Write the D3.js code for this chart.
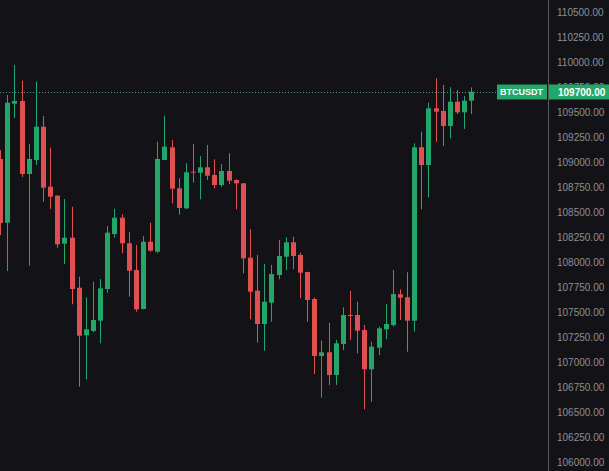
<!DOCTYPE html>
<html>
<head>
<meta charset="utf-8">
<script src="https://cdn.jsdelivr.net/npm/d3@7"></script>
<style>
  html, body { margin: 0; padding: 0; background: #131317; }
  svg { display: block; }
</style>
</head>
<body>
<svg id="chart" width="609" height="471"></svg>
<script>
// ---- data ----
const symbol = "BTCUSDT";
const lastPrice = 109700;
const opens  = [109030,108393,109583,109610,108880,109020,109353,108753,108663,108183,108243,107743,107267,107310,107413,107730,108280,108443,108187,107920,107530,108203,108103,109020,109147,108737,108537,108903,108893,108947,108870,108770,108910,108820,108787,108043,107713,107380,107593,107870,108053,108197,108070,107900,107630,107060,107097,106870,107180,107470,107470,107320,106927,107143,107327,107370,107677,107647,107413,109147,108970,109537,109510,109360,109603,109497,109613];
const highs  = [109120,109670,109970,109813,109180,109803,109460,109143,108670,108630,108553,107853,107647,107803,107830,108360,108533,108477,108300,108170,108260,108393,109203,109463,109220,108837,108987,109180,109060,109170,109027,108980,109087,108827,108790,108327,108070,107980,107970,108220,108247,108253,108093,107903,107647,107213,107393,107220,107547,107713,107603,107370,107203,107353,107580,107920,107727,107897,109187,109303,109593,109837,109770,109747,109720,109660,109747];
const lows   = [108270,107910,109440,108850,107963,108970,108603,108530,108143,107980,107577,106753,106827,107297,107187,107693,108243,108087,107653,107503,107527,108103,108087,109020,108587,108473,108527,108793,108627,108820,108737,108753,108780,108527,107887,107427,107193,107113,107403,107827,107920,107927,107637,107403,106880,106643,106770,106770,107120,107220,107087,106527,106603,107070,107227,107353,107420,107103,107303,108527,108647,109203,109160,109237,109480,109330,109480];
const closes = [108390,109593,109610,108880,109030,109353,108743,108653,108177,108243,107730,107263,107327,107420,107737,108293,108443,108187,107913,107527,108203,108113,109030,109153,108733,108540,108897,108893,108947,108863,108770,108910,108813,108787,108037,107703,107380,107603,107880,108060,108197,108060,107893,107620,107060,107097,106870,107187,107470,107460,107313,106927,107153,107337,107380,107680,107643,107413,109147,108970,109537,109503,109360,109603,109497,109613,109703];
const tickValues = [106000,106250,106500,106750,107000,107250,107500,107750,108000,108250,108500,108750,109000,109250,109500,109750,110000,110250,110500];

const candles = opens.map((o, i) => ({ i, o, h: highs[i], l: lows[i], c: closes[i] }));

// ---- style ----
const UP = "#24a66b", DOWN = "#e04f52";
const svg = d3.select("#chart");

const y = d3.scaleLinear().domain([106000, 110500]).range([462, 12]);
const x = d3.scaleLinear().domain([0, candles.length - 1]).range([0.2, 471.3]);
const bodyW = 5;

// price line (dotted)
svg.append("line")
  .attr("x1", 0).attr("x2", 497)
  .attr("y1", Math.round(y(lastPrice)) + 0.5).attr("y2", Math.round(y(lastPrice)) + 0.5)
  .attr("stroke", "#4e9c78").attr("stroke-width", 1)
  .attr("stroke-dasharray", "1,2");

// candles
const g = svg.append("g");
g.selectAll("line.wick").data(candles).join("line")
  .attr("class", "wick")
  .attr("x1", d => Math.round(x(d.i)) + 0.5).attr("x2", d => Math.round(x(d.i)) + 0.5)
  .attr("y1", d => y(d.h)).attr("y2", d => y(d.l))
  .attr("stroke", d => d.c >= d.o ? UP : DOWN).attr("stroke-width", 1);

g.selectAll("rect.body").data(candles).join("rect")
  .attr("class", "body")
  .attr("x", d => Math.round(x(d.i)) + 0.5 - bodyW / 2)
  .attr("width", bodyW)
  .attr("y", d => y(Math.max(d.o, d.c)))
  .attr("height", d => Math.max(1, Math.abs(y(d.o) - y(d.c))))
  .attr("fill", d => d.c >= d.o ? UP : DOWN);

// right price axis
const axisX = 548.5;
svg.append("line")
  .attr("x1", axisX).attr("x2", axisX).attr("y1", 0).attr("y2", 471)
  .attr("stroke", "#5a5a60").attr("stroke-width", 1);

const axis = d3.axisRight(y).tickValues(tickValues).tickSize(0).tickPadding(0)
  .tickFormat(d => d.toFixed(2));
const ag = svg.append("g").attr("transform", `translate(557,0)`).call(axis);
ag.select(".domain").remove();
ag.selectAll("text")
  .attr("fill", "#8f8f94")
  .attr("font-family", "'Liberation Sans', Arial, sans-serif")
  .attr("font-size", "10px")
  .attr("dy", "0.35em");

// last price labels
const ly = y(lastPrice);
svg.append("rect").attr("x", 497).attr("y", ly - 7.5).attr("width", 50).attr("height", 15).attr("fill", UP);
svg.append("rect").attr("x", 549).attr("y", ly - 7.5).attr("width", 60).attr("height", 15).attr("fill", UP);
svg.append("text").attr("x", 500).attr("y", ly).attr("dy", "0.36em")
  .attr("fill", "#ffffff").attr("font-weight", "bold")
  .attr("font-family", "'Liberation Sans', Arial, sans-serif").attr("font-size", "9px")
  .text(symbol);
svg.append("text").attr("x", 558).attr("y", ly).attr("dy", "0.36em")
  .attr("fill", "#ffffff").attr("font-weight", "bold")
  .attr("font-family", "'Liberation Sans', Arial, sans-serif").attr("font-size", "10px")
  .text(lastPrice.toFixed(2));
</script>
</body>
</html>
